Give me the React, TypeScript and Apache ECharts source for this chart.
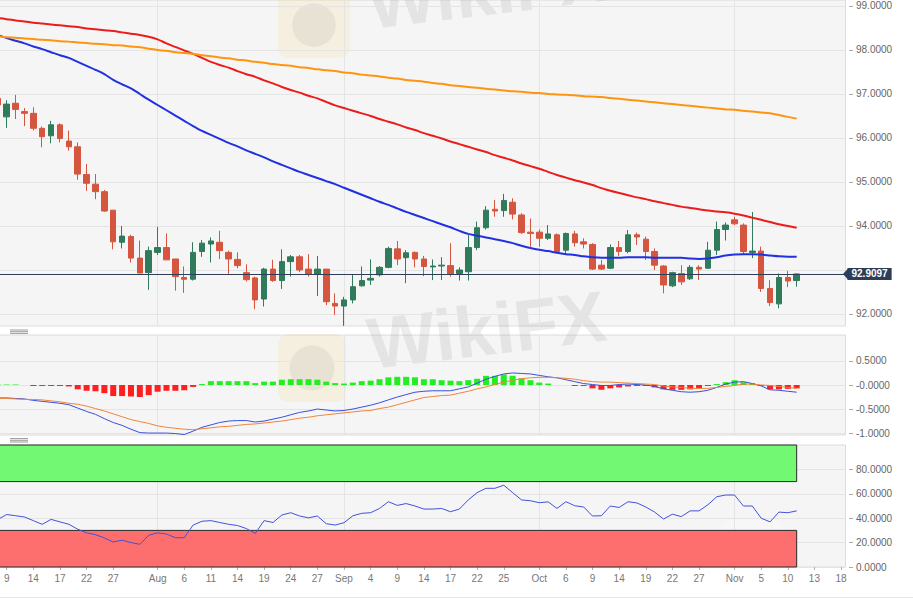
import React, { useEffect, useRef } from "react";
import * as echarts from "echarts";

// Trading days (2020), Jul 8 .. Nov 18
const dates = [
  "07-08","07-09","07-10","07-13","07-14","07-15","07-16","07-17","07-20","07-21","07-22","07-23","07-24","07-27","07-28","07-29","07-30","07-31",
  "08-03","08-04","08-05","08-06","08-07","08-10","08-11","08-12","08-13","08-14","08-17","08-18","08-19","08-20","08-21","08-24","08-25","08-26","08-27","08-28","08-31",
  "09-01","09-02","09-03","09-04","09-07","09-08","09-09","09-10","09-11","09-14","09-15","09-16","09-17","09-18","09-21","09-22","09-23","09-24","09-25","09-28","09-29","09-30",
  "10-01","10-02","10-05","10-06","10-07","10-08","10-09","10-12","10-13","10-14","10-15","10-16","10-19","10-20","10-21","10-22","10-23","10-26","10-27","10-28","10-29","10-30",
  "11-02","11-03","11-04","11-05","11-06","11-09","11-10","11-11","11-12","11-13","11-16","11-17","11-18",
];

const tickDates = ["07-09","07-14","07-17","07-22","07-27","08-03","08-06","08-11","08-14","08-19","08-24","08-27","09-01","09-04","09-09","09-14","09-17","09-22","09-25","10-01","10-06","10-09","10-14","10-19","10-22","10-27","11-02","11-05","11-10","11-13","11-18"];
const tickLabels = ["9","14","17","22","27","Aug","6","11","14","19","24","27","Sep","4","9","14","17","22","25","Oct","6","9","14","19","22","27","Nov","5","10","13","18"];
const monthStarts = ["08-03","09-01","10-01","11-02"];

// [open, close, low, high]
const candles = [
  [96.90, 96.75, 96.45, 96.98],
  [96.48, 96.77, 96.23, 96.86],
  [96.79, 96.65, 96.43, 96.98],
  [96.60, 96.56, 96.27, 96.68],
  [96.56, 96.22, 96.17, 96.70],
  [96.22, 96.03, 95.79, 96.26],
  [96.05, 96.30, 95.88, 96.39],
  [96.30, 95.99, 95.90, 96.33],
  [95.93, 95.80, 95.71, 96.17],
  [95.80, 95.18, 95.05, 95.90],
  [95.17, 94.97, 94.80, 95.41],
  [94.95, 94.78, 94.61, 95.18],
  [94.78, 94.34, 94.32, 94.82],
  [94.36, 93.64, 93.47, 94.36],
  [93.63, 93.77, 93.49, 94.00],
  [93.76, 93.27, 93.17, 93.80],
  [93.27, 92.93, 92.93, 93.67],
  [92.94, 93.44, 92.55, 93.53],
  [93.40, 93.51, 93.34, 93.98],
  [93.51, 93.23, 93.23, 93.83],
  [93.25, 92.85, 92.53, 93.25],
  [92.83, 92.79, 92.48, 93.08],
  [92.79, 93.40, 92.76, 93.63],
  [93.42, 93.61, 93.30, 93.68],
  [93.59, 93.66, 93.17, 93.74],
  [93.63, 93.44, 93.25, 93.89],
  [93.40, 93.25, 92.91, 93.44],
  [93.24, 93.10, 93.04, 93.40],
  [92.94, 92.78, 92.74, 93.13],
  [92.82, 92.32, 92.11, 92.85],
  [92.34, 93.02, 92.17, 93.05],
  [93.02, 92.76, 92.73, 93.23],
  [92.76, 93.19, 92.57, 93.47],
  [93.19, 93.30, 92.85, 93.34],
  [93.30, 93.00, 92.95, 93.34],
  [93.02, 92.91, 92.85, 93.36],
  [92.91, 93.02, 92.41, 93.32],
  [93.02, 92.28, 92.20, 93.02],
  [92.24, 92.18, 91.98, 92.47],
  [92.18, 92.32, 91.73, 92.39],
  [92.32, 92.62, 92.24, 92.89],
  [92.64, 92.76, 92.62, 93.08],
  [92.77, 92.81, 92.66, 93.24],
  [92.89, 93.06, 92.85, 93.09],
  [93.06, 93.49, 93.04, 93.53],
  [93.48, 93.25, 93.11, 93.66],
  [93.28, 93.39, 92.70, 93.45],
  [93.40, 93.25, 93.06, 93.42],
  [93.25, 93.08, 92.86, 93.32],
  [93.07, 93.09, 92.77, 93.24],
  [93.09, 93.11, 92.77, 93.29],
  [93.10, 92.90, 92.85, 93.61],
  [92.92, 93.00, 92.76, 93.06],
  [92.96, 93.51, 92.76, 93.80],
  [93.51, 93.96, 93.45, 94.10],
  [93.96, 94.36, 93.92, 94.45],
  [94.38, 94.34, 94.21, 94.59],
  [94.35, 94.58, 94.21, 94.73],
  [94.54, 94.27, 94.15, 94.63],
  [94.25, 93.85, 93.82, 94.29],
  [93.86, 93.83, 93.53, 94.17],
  [93.86, 93.72, 93.53, 93.92],
  [93.72, 93.82, 93.68, 94.02],
  [93.80, 93.42, 93.38, 93.83],
  [93.45, 93.83, 93.36, 93.85],
  [93.82, 93.62, 93.53, 93.89],
  [93.64, 93.59, 93.49, 93.72],
  [93.58, 93.02, 93.00, 93.61],
  [93.11, 93.02, 93.00, 93.23],
  [93.04, 93.51, 93.02, 93.58],
  [93.51, 93.42, 93.32, 93.66],
  [93.42, 93.80, 93.38, 93.91],
  [93.80, 93.75, 93.57, 93.85],
  [93.70, 93.42, 93.23, 93.76],
  [93.42, 93.11, 93.00, 93.49],
  [93.09, 92.66, 92.47, 93.11],
  [92.64, 92.94, 92.61, 92.96],
  [92.92, 92.73, 92.66, 93.11],
  [92.80, 93.06, 92.77, 93.11],
  [93.06, 93.02, 92.77, 93.11],
  [93.04, 93.45, 93.02, 93.64],
  [93.45, 93.92, 93.34, 94.10],
  [93.92, 94.02, 93.67, 94.08],
  [94.14, 94.05, 94.02, 94.21],
  [94.02, 93.42, 93.36, 94.06],
  [93.40, 93.43, 93.27, 94.32],
  [93.43, 92.58, 92.50, 93.53],
  [92.58, 92.26, 92.18, 92.77],
  [92.23, 92.83, 92.13, 92.92],
  [92.83, 92.75, 92.61, 92.98],
  [92.76, 92.9097, 92.62, 92.92],
];

const lastPrice = 92.9097;

const ma50 = [
  98.34, 98.27, 98.21, 98.15, 98.08, 98.02, 97.95, 97.88, 97.82, 97.73,
  97.64, 97.55, 97.45, 97.32, 97.22, 97.13, 97.00, 96.87, 96.75, 96.63,
  96.51, 96.39, 96.27, 96.16, 96.07, 95.98, 95.89, 95.81, 95.72, 95.64,
  95.56, 95.47, 95.39, 95.31, 95.23, 95.16, 95.09, 95.02, 94.95, 94.87,
  94.79, 94.71, 94.63, 94.55, 94.48, 94.40, 94.32, 94.25, 94.18, 94.11,
  94.04, 93.97, 93.89, 93.82, 93.78, 93.74, 93.70, 93.66, 93.61, 93.55,
  93.50, 93.46, 93.43, 93.39, 93.36, 93.34, 93.31, 93.29, 93.28, 93.28,
  93.28, 93.29, 93.29, 93.29, 93.28, 93.28, 93.28, 93.28, 93.26, 93.25,
  93.26, 93.29, 93.33, 93.35, 93.36, 93.36, 93.35, 93.33, 93.31, 93.30, 93.30,
];

const ma100 = [
  98.73, 98.70, 98.67, 98.65, 98.62, 98.60, 98.58, 98.56, 98.54, 98.52,
  98.49, 98.47, 98.45, 98.43, 98.40, 98.37, 98.34, 98.30, 98.24, 98.15,
  98.07, 97.99, 97.91, 97.82, 97.73, 97.66, 97.60, 97.52, 97.45, 97.39,
  97.31, 97.24, 97.16, 97.09, 97.03, 96.96, 96.90, 96.82, 96.74, 96.68,
  96.62, 96.56, 96.50, 96.43, 96.37, 96.31, 96.24, 96.18, 96.11, 96.05,
  95.99, 95.92, 95.86, 95.80, 95.74, 95.68, 95.61, 95.55, 95.49, 95.42,
  95.36, 95.30, 95.23, 95.16, 95.10, 95.04, 94.99, 94.93, 94.86, 94.80,
  94.75, 94.70, 94.65, 94.61, 94.56, 94.52, 94.48, 94.44, 94.41, 94.38,
  94.35, 94.33, 94.31, 94.28, 94.24, 94.19, 94.14, 94.09, 94.04, 94.00, 93.96,
];

const ma200 = [
  98.31, 98.29, 98.28, 98.26, 98.25, 98.23, 98.22, 98.20, 98.19, 98.17,
  98.16, 98.14, 98.13, 98.11, 98.10, 98.08, 98.06, 98.03, 98.00, 97.98,
  97.95, 97.93, 97.91, 97.88, 97.86, 97.83, 97.81, 97.78, 97.76, 97.73,
  97.71, 97.68, 97.66, 97.64, 97.61, 97.59, 97.56, 97.54, 97.52, 97.49,
  97.47, 97.44, 97.42, 97.40, 97.37, 97.35, 97.32, 97.30, 97.28, 97.25,
  97.23, 97.20, 97.18, 97.16, 97.14, 97.12, 97.10, 97.08, 97.06, 97.05,
  97.03, 97.02, 97.00, 96.99, 96.98, 96.97, 96.95, 96.94, 96.93, 96.91,
  96.89, 96.87, 96.85, 96.83, 96.81, 96.79, 96.77, 96.75, 96.73, 96.71,
  96.69, 96.67, 96.65, 96.64, 96.62, 96.60, 96.58, 96.56, 96.52, 96.48, 96.44,
];

const macdLine = [
  -0.27, -0.27, -0.28, -0.29, -0.32, -0.34, -0.36, -0.38, -0.41, -0.48,
  -0.55, -0.61, -0.70, -0.78, -0.84, -0.92, -0.99, -1.00, -1.00, -1.00,
  -1.01, -1.03, -0.96, -0.88, -0.83, -0.78, -0.75, -0.74, -0.74, -0.77,
  -0.75, -0.71, -0.67, -0.62, -0.57, -0.54, -0.50, -0.52, -0.54, -0.53,
  -0.50, -0.46, -0.42, -0.37, -0.31, -0.25, -0.20, -0.15, -0.13, -0.12,
  -0.12, -0.12, -0.08, -0.04, 0.04, 0.12, 0.18, 0.23, 0.25, 0.24,
  0.23, 0.20, 0.17, 0.15, 0.11, 0.07, 0.03, 0.01, -0.01, -0.01,
  0.01, 0.02, 0.01, 0.00, -0.03, -0.08, -0.11, -0.14, -0.15, -0.14,
  -0.11, -0.05, 0.02, 0.06, 0.07, 0.03, -0.02, -0.10, -0.11, -0.13, -0.15,
];

const signalLine = [
  -0.28, -0.28, -0.29, -0.30, -0.30, -0.31, -0.33, -0.35, -0.38, -0.40,
  -0.44, -0.49, -0.54, -0.60, -0.66, -0.72, -0.76, -0.80, -0.85, -0.88,
  -0.90, -0.92, -0.93, -0.91, -0.89, -0.87, -0.86, -0.84, -0.82, -0.81,
  -0.79, -0.77, -0.75, -0.72, -0.69, -0.67, -0.64, -0.62, -0.60, -0.58,
  -0.56, -0.54, -0.53, -0.49, -0.46, -0.41, -0.36, -0.31, -0.26, -0.24,
  -0.22, -0.21, -0.17, -0.13, -0.08, -0.04, 0.01, 0.06, 0.10, 0.13,
  0.15, 0.16, 0.16, 0.15, 0.14, 0.12, 0.09, 0.07, 0.06, 0.06,
  0.05, 0.04, 0.03, 0.02, 0.01, -0.02, -0.04, -0.05, -0.07, -0.07,
  -0.07, -0.05, -0.03, -0.01, 0.02, 0.02, 0.00, -0.01, -0.03, -0.05, -0.07,
];

const macdHist = [
  0.01, 0.01, 0.01, 0.00, -0.02, -0.02, -0.02, -0.02, -0.03, -0.09,
  -0.12, -0.13, -0.17, -0.23, -0.23, -0.24, -0.25, -0.21, -0.14, -0.12,
  -0.12, -0.11, -0.04, 0.02, 0.08, 0.08, 0.08, 0.08, 0.08, 0.04,
  0.07, 0.07, 0.11, 0.12, 0.12, 0.12, 0.11, 0.07, 0.04, 0.03,
  0.05, 0.08, 0.09, 0.12, 0.16, 0.17, 0.17, 0.16, 0.12, 0.12,
  0.10, 0.09, 0.08, 0.10, 0.13, 0.19, 0.19, 0.22, 0.19, 0.14,
  0.10, 0.05, 0.03, 0.00, 0.00, -0.02, -0.02, -0.07, -0.10, -0.07,
  -0.05, -0.03, -0.02, -0.02, -0.05, -0.09, -0.10, -0.10, -0.09, -0.07,
  -0.02, 0.02, 0.06, 0.10, 0.06, 0.04, -0.02, -0.09, -0.09, -0.08, -0.07,
];

const rsi = [
  39, 43, 42, 41, 38, 35, 39, 37, 35, 31,
  28, 26.5, 23.8, 20.5, 22, 20, 18.6, 26, 28, 27,
  24, 24, 34.4, 37.5, 38, 36.5, 35, 34, 31.5, 27.5,
  38, 36.5, 42.6, 44.5, 41.8, 40.3, 41.8, 35.5, 34.4, 36.3,
  42, 44, 44.5, 48, 53.5, 50.5, 52, 50, 47.5, 47.5,
  48, 45.3, 47.5, 55, 61, 64.5, 64.5, 67, 61, 55,
  54.3, 52.7, 53.4, 48, 53.5, 50.2, 49.2, 41.8, 42, 50,
  48.8, 53.5, 52.5, 49.2, 45, 39.3, 43.3, 41.3, 46, 46,
  51, 57.6, 59, 59, 50, 50, 40, 37, 45, 44.5, 46,
];

const priceTicks = [92, 93, 94, 95, 96, 97, 98, 99];
const priceLabels = [92, 94, 95, 96, 97, 98, 99];
const macdTicks = [-1, -0.5, 0, 0.5];
const rsiTicks = [0, 20, 40, 60, 80];
const rsiOverbought = [70, 100];
const rsiOversold = [0, 30];

const FONT = "'Liberation Sans', Arial, Helvetica, sans-serif";
const UP = "#2f7b5c";
const DOWN = "#d6553e";
const PANEL_BG = "#f5f5f5";
const SPLIT = "#e4e4e4";

export default function App() {
  const ref = useRef<HTMLDivElement>(null);

  useEffect(() => {
    const chart = echarts.init(ref.current!, null, { renderer: "svg" });
    const GL = -6.6;
    const GW = 852.1;
    const gridBase = {
      left: GL,
      width: GW,
      show: true,
      containLabel: false,
      outerBoundsMode: "none",
      backgroundColor: PANEL_BG,
      borderColor: "#dcdcdc",
      borderWidth: 1,
    };
    const isMonth = (_i: number, v: string) => monthStarts.includes(v);
    const isTick = (_i: number, v: string) => tickDates.includes(v);
    const labelOf = (v: string) => {
      const i = tickDates.indexOf(v);
      return i >= 0 ? tickLabels[i] : "";
    };

    const xAxes = [0, 1, 2].map((g) => ({
      type: "category",
      gridIndex: g,
      data: dates,
      boundaryGap: true,
      axisLine: { show: false },
      axisTick:
        g === 2
          ? { show: true, interval: isTick, alignWithLabel: true, length: 3, lineStyle: { color: "#b0b0b0" } }
          : { show: false },
      axisLabel:
        g === 2
          ? { show: true, interval: isTick, formatter: labelOf, fontSize: 10, color: "#777", fontFamily: FONT, margin: 6 }
          : { show: false },
      splitLine: { show: true, interval: isMonth, alignWithLabel: true, lineStyle: { color: SPLIT, width: 1 } },
    }));

    const yBase = (g: number, min: number, max: number, ticks: number[], labels: number[], fmt: (v: number) => string) => ({
      type: "value",
      gridIndex: g,
      position: "right",
      min,
      max,
      offset: 3.5,
      axisLine: { show: false },
      axisTick: { show: true, length: 4, customValues: ticks, lineStyle: { color: "#aaa" } },
      axisLabel: { show: true, customValues: labels, formatter: fmt, fontSize: 10, color: "#666", fontFamily: FONT, margin: 7 },
      splitLine: { show: true, lineStyle: { color: SPLIT, width: 1 } },
    });

    const wmFont = "bold 72px 'Liberation Sans', Arial, sans-serif";
    const watermark = (x: number, y: number) => ({
      type: "text",
      silent: true,
      x,
      y,
      rotation: 0.12,
      z: 0,
      style: { text: "WikiFX", font: wmFont, fill: "rgba(110,110,110,0.12)", textAlign: "left", textVerticalAlign: "bottom" },
    });
    const logo = (x: number, y: number, w: number, h: number, fill: string, inner: string) => ({
      type: "group",
      silent: true,
      x,
      y,
      children: [
        { type: "rect", shape: { x: 0, y: 0, width: w, height: h, r: 10 }, style: { fill } },
        { type: "circle", shape: { cx: w * 0.5, cy: h * 0.5, r: Math.min(w, h) * 0.33 }, style: { fill: inner } },
      ],
    });

    const option = {
      animation: false,
      backgroundColor: "#ffffff",
      textStyle: { fontFamily: FONT },
      grid: [
        { ...gridBase, top: 0, height: 326 },
        { ...gridBase, top: 335, height: 100 },
        { ...gridBase, top: 445, height: 122 },
      ],
      xAxis: xAxes,
      yAxis: [
        yBase(0, 91.727, 99.136, priceTicks, priceLabels, (v: number) => v.toFixed(4)),
        yBase(1, -1.04, 1.04, macdTicks, macdTicks, (v: number) => (v === 0 ? "-0.0000" : v.toFixed(4))),
        yBase(2, 0, 100, rsiTicks, rsiTicks, (v: number) => v.toFixed(4)),
      ],
      graphic: [
        ...[330, 331.7, 333.4, 438.6, 440.3, 442].map((y) => ({
          type: "line",
          silent: true,
          shape: { x1: 10, y1: y, x2: 28, y2: y },
          style: { stroke: "#9a9a9a", lineWidth: 1 },
        })),
        {
          type: "line",
          silent: true,
          shape: { x1: 0, y1: 597.5, x2: 913, y2: 597.5 },
          style: { stroke: "#e6e6e6", lineWidth: 1 },
        },
        logo(278, -8, 72, 66, "rgba(246,214,110,0.16)", "rgba(120,120,120,0.10)"),
        logo(278, 334, 68, 68, "rgba(246,214,110,0.16)", "rgba(120,120,120,0.10)"),
        logo(722, 520, 62, 62, "rgba(255,255,255,0.22)", "rgba(255,255,255,0.15)"),
        watermark(372, 40),
        watermark(372, 380),
      ],
      series: [
        {
          type: "candlestick",
          name: "USD Index",
          xAxisIndex: 0,
          yAxisIndex: 0,
          data: candles,
          barWidth: 6,
          z: 3,
          itemStyle: { color: UP, color0: DOWN, borderColor: UP, borderColor0: DOWN, borderWidth: 1 },
          markLine: {
            silent: true,
            symbol: ["none", "triangle"],
            symbolSize: [11, 5],
            symbolRotate: 90,
            data: [{ yAxis: lastPrice }],
            lineStyle: { color: "#2d3e58", width: 1, type: "solid" },
            itemStyle: { color: "#2d3e58" },
            label: {
              show: true,
              position: "end",
              distance: 2,
              formatter: () => lastPrice.toFixed(4),
              color: "#fff",
              fontWeight: "bold",
              fontSize: 10,
              fontFamily: FONT,
              backgroundColor: "#2d3e58",
              padding: [1, 4, 1, 4],
              lineHeight: 10,
            },
          },
        },
        {
          type: "line", name: "MA50", xAxisIndex: 0, yAxisIndex: 0, data: ma50,
          showSymbol: false, symbol: "none", smooth: 0.3, z: 4,
          lineStyle: { color: "#1f31e0", width: 2 },
        },
        {
          type: "line", name: "MA100", xAxisIndex: 0, yAxisIndex: 0, data: ma100,
          showSymbol: false, symbol: "none", smooth: 0.3, z: 4,
          lineStyle: { color: "#ec1c1c", width: 2 },
        },
        {
          type: "line", name: "MA200", xAxisIndex: 0, yAxisIndex: 0, data: ma200,
          showSymbol: false, symbol: "none", smooth: 0.3, z: 4,
          lineStyle: { color: "#ff9411", width: 2 },
        },
        {
          type: "bar", name: "Histogram", xAxisIndex: 1, yAxisIndex: 1, data: macdHist,
          barWidth: 6, z: 2,
          itemStyle: { color: (p: any) => (p.value >= 0 ? "#22ee22" : "#ff1f1f") },
        },
        {
          type: "line", name: "MACD", xAxisIndex: 1, yAxisIndex: 1, data: macdLine,
          showSymbol: false, symbol: "none", z: 3,
          lineStyle: { color: "#3a4fdc", width: 1 },
        },
        {
          type: "line", name: "Signal", xAxisIndex: 1, yAxisIndex: 1, data: signalLine,
          showSymbol: false, symbol: "none", z: 3,
          lineStyle: { color: "#f0843a", width: 1 },
        },
        {
          type: "line", name: "RSI bands", xAxisIndex: 2, yAxisIndex: 2, data: [],
          showSymbol: false, symbol: "none", z: 1,
          markArea: {
            silent: true,
            data: [
              [
                { xAxis: dates[0], yAxis: rsiOverbought[0], itemStyle: { color: "#72f872", borderColor: "#2a2a2a", borderWidth: 1 } },
                { xAxis: dates[candles.length - 1], yAxis: rsiOverbought[1] },
              ],
              [
                { xAxis: dates[0], yAxis: rsiOversold[0], itemStyle: { color: "#fd6f6f", borderColor: "#2a2a2a", borderWidth: 1 } },
                { xAxis: dates[candles.length - 1], yAxis: rsiOversold[1] },
              ],
            ],
          },
        },
        {
          type: "line", name: "RSI", xAxisIndex: 2, yAxisIndex: 2, data: rsi,
          showSymbol: false, symbol: "none", z: 3,
          lineStyle: { color: "#4152d8", width: 1 },
        },
      ],
    };

    chart.setOption(option as any);
    return () => chart.dispose();
  }, []);

  return (
    <div
      ref={ref}
      style={{ position: "fixed", left: 0, top: 0, width: 913, height: 601, background: "#fff" }}
    />
  );
}
